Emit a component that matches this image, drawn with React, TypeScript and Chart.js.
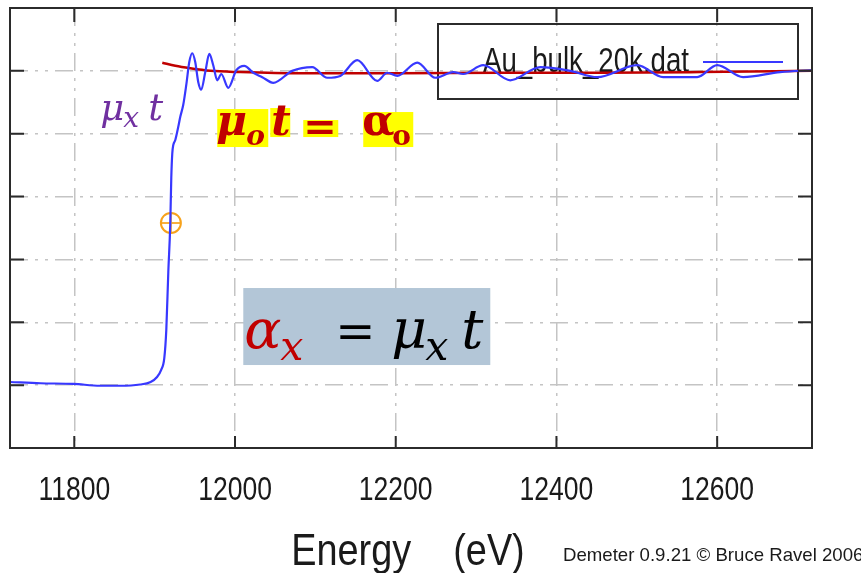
import React, { useEffect, useRef } from 'react';
import { Chart, registerables } from 'chart.js';

Chart.register(...registerables);

// ---- data ----
const energy = [
  11720, 11758, 11799, 11832, 11857, 11882, 11895, 11903, 11908, 11912,
  11914.5, 11917, 11919.4, 11920.7, 11921.9, 11923.2, 11925.7, 11929.4, 11931.9, 11935.6,
  11939.4, 11943.1, 11946.8, 11950.5, 11954.3, 11958.0, 11963.0, 11968.0, 11972.9, 11977.9,
  11982.9, 11991.6, 12001.6, 12011.5, 12022.7, 12033.9, 12047.6, 12071.2, 12096.1, 12114.8,
  12131.0, 12152.1, 12177.0, 12189.4, 12201.9, 12226.8, 12249.2, 12271.6, 12284.0, 12308.9,
  12342.5, 12379.8, 12417.1, 12450.7, 12500.5, 12532.8, 12575.1, 12600.0, 12632.3, 12678.4,
  12718.2,
];
const muT = [
  1.05, 1.03, 1.02, 0.99, 0.99, 1.01, 1.05, 1.13, 1.24, 1.43,
  1.88, 2.8, 3.55, 4.3, 4.68, 4.82, 4.9, 5.11, 5.27, 5.46,
  5.78, 6.14, 6.28, 6.14, 5.82, 5.70, 5.98, 6.27, 6.09, 5.85,
  5.95, 5.73, 6.01, 6.08, 5.97, 5.90, 5.81, 6.00, 6.06, 5.89,
  5.92, 6.17, 5.84, 5.97, 5.92, 6.13, 5.89, 5.98, 5.95, 6.09,
  5.85, 6.06, 6.00, 5.90, 6.09, 5.90, 5.90, 6.09, 5.90, 5.98,
  6.01,
];
const bkgEnergy = [11909.5, 11925.7, 11944.3, 11969.2, 12006.5, 12081.2, 12205.6, 12330.0, 12454.4, 12578.9, 12718.2];
const bkgMu = [6.13, 6.08, 6.04, 6.0, 5.98, 5.96, 5.96, 5.97, 5.97, 5.98, 6.0];
const e0Energy = [11920.2];
const e0Mu = [3.58];
const xTicks = [11800, 12000, 12200, 12400, 12600];
const yTicks = [1, 2, 3, 4, 5, 6];
const xRange = [11720, 12718];
const yRange = [0, 7];
const legendLabel = 'Au_bulk_20k.dat';
const xTitle = 'Energy    (eV)';
const credit = 'Demeter 0.9.21 \u00A9 Bruce Ravel 2006';

// annotation anchors in data coordinates [energy, value]
const anchorMuxt = [11836.1, 5.218];
const anchorMu0 = [11977.9, 4.979];
const anchorBox = [12010.3, 2.545];

const SANS = "'Liberation Sans', Arial, sans-serif";
const MATH = "'DejaVu Serif', 'Liberation Serif', serif";

type Seg = { text: string; dx: number; dy: number; font: string; color: string };
type Rect = { dx: number; dy: number; w: number; h: number; color: string };
type Ann = { anchor: number[]; rects: Rect[]; segs: Seg[] };

const PURPLE = '#7030a0';
const RED = '#c00000';
const YEL = '#ffff00';

const annotations: Ann[] = [
  {
    anchor: anchorMuxt,
    rects: [],
    segs: [
      { text: '\u03BC', dx: -3, dy: 0, font: `italic 37px ${MATH}`, color: PURPLE },
      { text: 'x', dx: 20, dy: 7, font: `italic 28px ${MATH}`, color: PURPLE },
      { text: 't', dx: 45, dy: 0, font: `italic 37px ${MATH}`, color: PURPLE },
    ],
  },
  {
    anchor: anchorMu0,
    rects: [
      { dx: 0, dy: -26, w: 51, h: 38, color: YEL },
      { dx: 53, dy: -27, w: 20, h: 29, color: YEL },
      { dx: 86, dy: -15, w: 35, h: 17, color: YEL },
      { dx: 146, dy: -23, w: 50, h: 35, color: YEL },
    ],
    segs: [
      { text: '\u03BC', dx: -1, dy: 0, font: `italic bold 42px ${MATH}`, color: RED },
      { text: 'o', dx: 29, dy: 10, font: `italic bold 28px ${MATH}`, color: RED },
      { text: 't', dx: 54, dy: 0, font: `italic bold 42px ${MATH}`, color: RED },
      { text: '=', dx: 86, dy: 5, font: `bold 40px ${MATH}`, color: RED },
      { text: '\u03B1', dx: 145, dy: 0, font: `bold 42px ${MATH}`, color: RED },
      { text: 'o', dx: 175, dy: 10, font: `bold 28px ${MATH}`, color: RED },
    ],
  },
  {
    anchor: anchorBox,
    rects: [{ dx: 0, dy: 0, w: 247, h: 77, color: '#b3c6d7' }],
    segs: [
      { text: '\u03B1', dx: 1, dy: 60, font: `italic 55px ${MATH}`, color: RED },
      { text: 'x', dx: 37, dy: 72, font: `italic 41px ${MATH}`, color: RED },
      { text: '=', dx: 92, dy: 60, font: `48px ${MATH}`, color: '#000' },
      { text: '\u03BC', dx: 148, dy: 60, font: `italic 55px ${MATH}`, color: '#000' },
      { text: 'x', dx: 182, dy: 72, font: `italic 41px ${MATH}`, color: '#000' },
      { text: 't', dx: 218, dy: 60, font: `italic 55px ${MATH}`, color: '#000' },
    ],
  },
];

function scaledText(ctx: any, text: string, x: number, y: number, font: string, sx: number, align: string) {
  ctx.save();
  ctx.font = font;
  ctx.textBaseline = 'alphabetic';
  ctx.textAlign = align;
  ctx.translate(x, y);
  ctx.scale(sx, 1);
  ctx.fillText(text, 0, 0);
  ctx.restore();
}

const legendPlugin = {
  id: 'boxLegend',
  beforeDatasetsDraw(chart: any) {
    const { ctx, chartArea } = chart;
    const left = chartArea.right - 374;
    const top = chartArea.top + 16;
    ctx.save();
    ctx.strokeStyle = '#2b2b2b';
    ctx.lineWidth = 2;
    ctx.strokeRect(left, top, 360, 75);
    ctx.fillStyle = '#1a1a1a';
    scaledText(ctx, legendLabel, left + 45, top + 48, `35px ${SANS}`, 0.79, 'left');
    ctx.strokeStyle = '#3838ff';
    ctx.lineWidth = 2;
    ctx.beginPath();
    ctx.moveTo(left + 265, top + 38);
    ctx.lineTo(left + 345, top + 38);
    ctx.stroke();
    ctx.restore();
  },
};

const framePlugin = {
  id: 'frameTicks',
  afterDatasetsDraw(chart: any) {
    const { ctx, chartArea, scales } = chart;
    const { left, right, top, bottom } = chartArea;
    ctx.save();
    ctx.strokeStyle = '#2b2b2b';
    ctx.lineWidth = 2;
    ctx.beginPath();
    xTicks.forEach((v) => {
      const px = scales.x.getPixelForValue(v);
      ctx.moveTo(px, bottom);
      ctx.lineTo(px, bottom - 12);
      ctx.moveTo(px, top);
      ctx.lineTo(px, top + 14);
    });
    yTicks.forEach((v) => {
      const py = scales.y.getPixelForValue(v);
      ctx.moveTo(left, py);
      ctx.lineTo(left + 14, py);
      ctx.moveTo(right, py);
      ctx.lineTo(right - 14, py);
    });
    ctx.stroke();
    ctx.strokeRect(left, top, right - left, bottom - top);
    // x tick labels (condensed, as in the original)
    ctx.fillStyle = '#1a1a1a';
    xTicks.forEach((v) => {
      const px = scales.x.getPixelForValue(v);
      scaledText(ctx, String(v), px, bottom + 52, `34px ${SANS}`, 0.78, 'center');
    });
    // axis title
    scaledText(ctx, xTitle, (left + right) / 2 - 3, bottom + 117, `44px ${SANS}`, 0.86, 'center');
    ctx.restore();
  },
};

const annPlugin = {
  id: 'annotations',
  afterDraw(chart: any) {
    const { ctx, scales } = chart;
    ctx.save();
    annotations.forEach((a) => {
      const ax = scales.x.getPixelForValue(a.anchor[0]);
      const ay = scales.y.getPixelForValue(a.anchor[1]);
      a.rects.forEach((r) => {
        ctx.fillStyle = r.color;
        ctx.fillRect(ax + r.dx, ay + r.dy, r.w, r.h);
      });
      ctx.textBaseline = 'alphabetic';
      ctx.textAlign = 'left';
      a.segs.forEach((s) => {
        ctx.font = s.font;
        ctx.fillStyle = s.color;
        ctx.fillText(s.text, ax + s.dx, ay + s.dy);
      });
    });
    ctx.fillStyle = '#1a1a1a';
    scaledText(ctx, credit, 563, 561, `19px ${SANS}`, 0.98, 'left');
    ctx.restore();
  },
};

export default function App() {
  const ref = useRef<HTMLCanvasElement | null>(null);
  useEffect(() => {
    const canvas = ref.current;
    if (!canvas) return;
    const chart = new Chart(canvas, {
      type: 'line',
      data: {
        datasets: [
          {
            label: legendLabel,
            data: energy.map((e, i) => ({ x: e, y: muT[i] })),
            borderColor: '#3838ff',
            borderWidth: 2.2,
            pointRadius: 0,
            cubicInterpolationMode: 'monotone',
            fill: false,
          },
          {
            label: 'background',
            data: bkgEnergy.map((e, i) => ({ x: e, y: bkgMu[i] })),
            borderColor: '#c00000',
            borderWidth: 2.5,
            pointRadius: 0,
            cubicInterpolationMode: 'monotone',
            fill: false,
          },
          {
            label: 'E0',
            data: e0Energy.map((e, i) => ({ x: e, y: e0Mu[i] })),
            showLine: false,
            pointStyle: 'circle',
            pointRadius: 10,
            pointBorderWidth: 2,
            pointBorderColor: '#f7a21b',
            pointBackgroundColor: 'rgba(0,0,0,0)',
          },
          {
            label: 'E0 cross',
            data: e0Energy.map((e, i) => ({ x: e, y: e0Mu[i] })),
            showLine: false,
            pointStyle: 'cross',
            pointRadius: 10,
            pointBorderWidth: 2,
            pointBorderColor: 'rgba(247,162,27,0.85)',
          },
        ],
      } as any,
      options: {
        animation: false,
        responsive: false,
        maintainAspectRatio: false,
        layout: { autoPadding: false, padding: { left: 10, top: 8, right: 49, bottom: 0 } },
        plugins: { legend: { display: false }, tooltip: { enabled: false } },
        scales: {
          x: {
            type: 'linear',
            min: xRange[0],
            max: xRange[1],
            afterBuildTicks: (s: any) => {
              s.ticks = xTicks.map((v) => ({ value: v }));
            },
            afterFit: (s: any) => {
              s.height = 125;
            },
            grid: { color: '#c4c4c4', lineWidth: 1.5, drawTicks: false },
            border: { display: false, dash: [18, 7, 3, 7, 3, 7] },
            ticks: { display: false },
            title: { display: false, text: xTitle },
          },
          y: {
            type: 'linear',
            min: yRange[0],
            max: yRange[1],
            afterBuildTicks: (s: any) => {
              s.ticks = yTicks.map((v) => ({ value: v }));
            },
            afterFit: (s: any) => {
              s.width = 0;
            },
            grid: { color: '#c4c4c4', lineWidth: 1.5, drawTicks: false },
            border: { display: false, dash: [18, 7, 3, 7, 3, 7] },
            ticks: { display: false },
          },
        },
      } as any,
      plugins: [legendPlugin, framePlugin, annPlugin],
    });
    return () => chart.destroy();
  }, []);
  return (
    <div style={{ position: 'fixed', left: 0, top: 0, width: 861, height: 573, background: '#fff' }}>
      <canvas ref={ref} width={861} height={573} style={{ display: 'block' }} />
    </div>
  );
}
